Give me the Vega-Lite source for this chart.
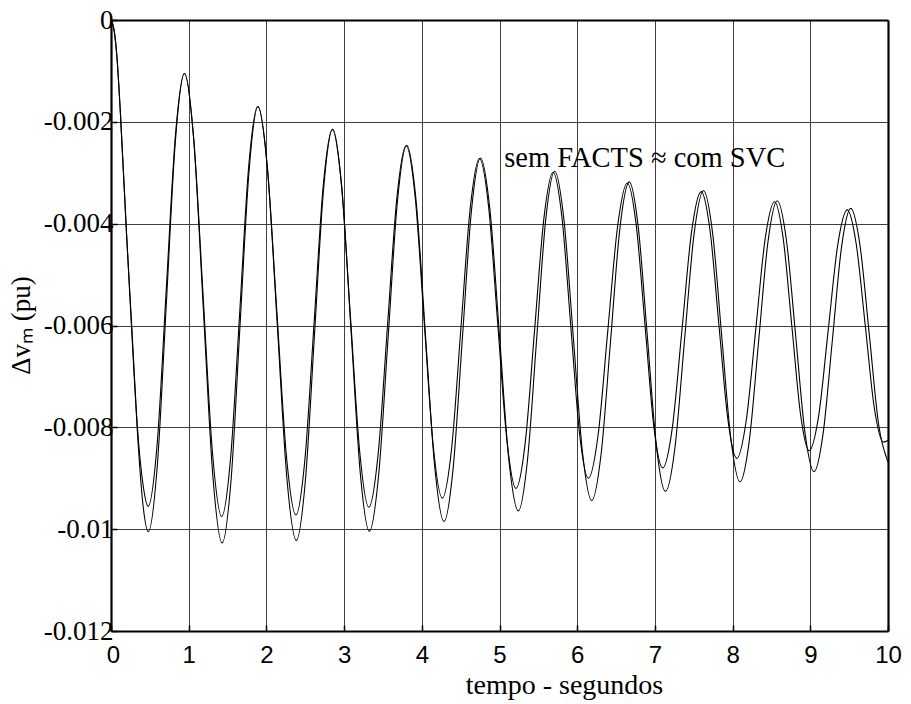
{
  "$schema": "https://vega.github.io/schema/vega-lite/v6.json",
  "width": 777,
  "height": 611,
  "autosize": {"type": "none"},
  "padding": {"left": 111, "top": 20, "right": 23, "bottom": 73},
  "background": "white",
  "config": {
    "view": {"stroke": null},
    "axis": {"domain": false}
  },
  "encoding": {
    "x": {
      "field": "t",
      "type": "quantitative",
      "scale": {"domain": [0, 10], "nice": false, "zero": false},
      "axis": {
        "values": [0, 1, 2, 3, 4, 5, 6, 7, 8, 9, 10],
        "title": "tempo - segundos",
        "titleFont": "Liberation Serif",
        "titleFontSize": 28,
        "titleFontWeight": "normal",
        "titleColor": "black",
        "titleX": 453,
        "titleY": 62,
        "titleAlign": "center",
        "titleBaseline": "alphabetic",
        "labelFont": "Liberation Sans",
        "labelFontSize": 24,
        "labelColor": "black",
        "labelBaseline": "top",
        "labelPadding": 18,
        "labelOffset": {"condition": {"test": "datum.value == 0", "value": 2}, "value": 0},
        "labelFlush": false,
        "labelOverlap": false,
        "ticks": true,
        "tickSize": -6,
        "tickColor": "black",
        "tickWidth": 1.5,
        "grid": true,
        "gridColor": {"condition": {"test": "datum.value == 0 || datum.value == 10", "value": "black"}, "value": "#404040"},
        "gridWidth": {"condition": {"test": "datum.value == 0 || datum.value == 10", "value": 2.2}, "value": 1},
        "gridOpacity": 1
      }
    },
    "y": {
      "field": "dv",
      "type": "quantitative",
      "scale": {"domain": [-0.012, 0], "nice": false, "zero": false},
      "axis": {
        "values": [0, -0.002, -0.004, -0.006, -0.008, -0.01, -0.012],
        "labelExpr": "datum.value == 0 ? '0' : '-' + format(abs(datum.value), '.3~f')",
        "title": "Δvₘ (pu)",
        "titleFont": "Liberation Serif",
        "titleFontSize": 27,
        "titleFontWeight": "normal",
        "titleColor": "black",
        "titleAngle": -90,
        "titleX": -82,
        "titleY": 305,
        "titleAlign": "center",
        "titleBaseline": "alphabetic",
        "labelFont": "Liberation Serif",
        "labelFontSize": 27,
        "labelColor": "black",
        "labelBaseline": "middle",
        "labelPadding": 4,
        "labelFlush": false,
        "labelOverlap": false,
        "ticks": true,
        "tickSize": -6,
        "tickColor": "black",
        "tickWidth": 1.5,
        "grid": true,
        "gridColor": {"condition": {"test": "datum.value == 0 || datum.value == -0.012", "value": "black"}, "value": "#404040"},
        "gridWidth": {"condition": {"test": "datum.value == 0 || datum.value == -0.012", "value": 2.2}, "value": 1},
        "gridOpacity": 1
      }
    }
  },
  "layer": [
    {
      "data": {
        "values": [
          {"serie": "sem FACTS", "t": 0, "dv": 0},
          {"serie": "sem FACTS", "t": 0.04, "dv": -0.0002},
          {"serie": "sem FACTS", "t": 0.08, "dv": -0.0008},
          {"serie": "sem FACTS", "t": 0.12, "dv": -0.0018},
          {"serie": "sem FACTS", "t": 0.2, "dv": -0.0042},
          {"serie": "sem FACTS", "t": 0.27, "dv": -0.0062},
          {"serie": "sem FACTS", "t": 0.34, "dv": -0.0081},
          {"serie": "sem FACTS", "t": 0.41, "dv": -0.0095},
          {"serie": "sem FACTS", "t": 0.48, "dv": -0.01005},
          {"serie": "sem FACTS", "t": 0.597, "dv": -0.00873},
          {"serie": "sem FACTS", "t": 0.713, "dv": -0.00555},
          {"serie": "sem FACTS", "t": 0.829, "dv": -0.00237},
          {"serie": "sem FACTS", "t": 0.946, "dv": -0.00105},
          {"serie": "sem FACTS", "t": 1.067, "dv": -0.0024},
          {"serie": "sem FACTS", "t": 1.188, "dv": -0.00566},
          {"serie": "sem FACTS", "t": 1.309, "dv": -0.00892},
          {"serie": "sem FACTS", "t": 1.43, "dv": -0.01027},
          {"serie": "sem FACTS", "t": 1.546, "dv": -0.00902},
          {"serie": "sem FACTS", "t": 1.661, "dv": -0.00599},
          {"serie": "sem FACTS", "t": 1.777, "dv": -0.00296},
          {"serie": "sem FACTS", "t": 1.892, "dv": -0.0017},
          {"serie": "sem FACTS", "t": 2.015, "dv": -0.00295},
          {"serie": "sem FACTS", "t": 2.139, "dv": -0.00596},
          {"serie": "sem FACTS", "t": 2.262, "dv": -0.00897},
          {"serie": "sem FACTS", "t": 2.385, "dv": -0.01022},
          {"serie": "sem FACTS", "t": 2.502, "dv": -0.00904},
          {"serie": "sem FACTS", "t": 2.619, "dv": -0.00618},
          {"serie": "sem FACTS", "t": 2.736, "dv": -0.00332},
          {"serie": "sem FACTS", "t": 2.853, "dv": -0.00214},
          {"serie": "sem FACTS", "t": 2.971, "dv": -0.0033},
          {"serie": "sem FACTS", "t": 3.089, "dv": -0.00609},
          {"serie": "sem FACTS", "t": 3.207, "dv": -0.00888},
          {"serie": "sem FACTS", "t": 3.325, "dv": -0.01004},
          {"serie": "sem FACTS", "t": 3.445, "dv": -0.00893},
          {"serie": "sem FACTS", "t": 3.566, "dv": -0.00625},
          {"serie": "sem FACTS", "t": 3.686, "dv": -0.00357},
          {"serie": "sem FACTS", "t": 3.806, "dv": -0.00246},
          {"serie": "sem FACTS", "t": 3.926, "dv": -0.00354},
          {"serie": "sem FACTS", "t": 4.046, "dv": -0.00616},
          {"serie": "sem FACTS", "t": 4.166, "dv": -0.00877},
          {"serie": "sem FACTS", "t": 4.286, "dv": -0.00985},
          {"serie": "sem FACTS", "t": 4.403, "dv": -0.00881},
          {"serie": "sem FACTS", "t": 4.521, "dv": -0.00628},
          {"serie": "sem FACTS", "t": 4.638, "dv": -0.00376},
          {"serie": "sem FACTS", "t": 4.755, "dv": -0.00271},
          {"serie": "sem FACTS", "t": 4.877, "dv": -0.00373},
          {"serie": "sem FACTS", "t": 4.999, "dv": -0.00618},
          {"serie": "sem FACTS", "t": 5.12, "dv": -0.00863},
          {"serie": "sem FACTS", "t": 5.242, "dv": -0.00964},
          {"serie": "sem FACTS", "t": 5.359, "dv": -0.00866},
          {"serie": "sem FACTS", "t": 5.476, "dv": -0.00631},
          {"serie": "sem FACTS", "t": 5.593, "dv": -0.00395},
          {"serie": "sem FACTS", "t": 5.71, "dv": -0.00297},
          {"serie": "sem FACTS", "t": 5.829, "dv": -0.00392},
          {"serie": "sem FACTS", "t": 5.949, "dv": -0.00621},
          {"serie": "sem FACTS", "t": 6.068, "dv": -0.00849},
          {"serie": "sem FACTS", "t": 6.187, "dv": -0.00944},
          {"serie": "sem FACTS", "t": 6.308, "dv": -0.00852},
          {"serie": "sem FACTS", "t": 6.429, "dv": -0.00631},
          {"serie": "sem FACTS", "t": 6.549, "dv": -0.0041},
          {"serie": "sem FACTS", "t": 6.67, "dv": -0.00318},
          {"serie": "sem FACTS", "t": 6.786, "dv": -0.00407},
          {"serie": "sem FACTS", "t": 6.903, "dv": -0.00622},
          {"serie": "sem FACTS", "t": 7.019, "dv": -0.00837},
          {"serie": "sem FACTS", "t": 7.135, "dv": -0.00926},
          {"serie": "sem FACTS", "t": 7.258, "dv": -0.0084},
          {"serie": "sem FACTS", "t": 7.38, "dv": -0.00631},
          {"serie": "sem FACTS", "t": 7.503, "dv": -0.00422},
          {"serie": "sem FACTS", "t": 7.625, "dv": -0.00335},
          {"serie": "sem FACTS", "t": 7.743, "dv": -0.00419},
          {"serie": "sem FACTS", "t": 7.86, "dv": -0.00621},
          {"serie": "sem FACTS", "t": 7.978, "dv": -0.00823},
          {"serie": "sem FACTS", "t": 8.095, "dv": -0.00907},
          {"serie": "sem FACTS", "t": 8.215, "dv": -0.00826},
          {"serie": "sem FACTS", "t": 8.335, "dv": -0.00631},
          {"serie": "sem FACTS", "t": 8.455, "dv": -0.00436},
          {"serie": "sem FACTS", "t": 8.575, "dv": -0.00355},
          {"serie": "sem FACTS", "t": 8.693, "dv": -0.00433},
          {"serie": "sem FACTS", "t": 8.812, "dv": -0.00621},
          {"serie": "sem FACTS", "t": 8.93, "dv": -0.00809},
          {"serie": "sem FACTS", "t": 9.048, "dv": -0.00887},
          {"serie": "sem FACTS", "t": 9.166, "dv": -0.00811},
          {"serie": "sem FACTS", "t": 9.284, "dv": -0.00629},
          {"serie": "sem FACTS", "t": 9.402, "dv": -0.00446},
          {"serie": "sem FACTS", "t": 9.52, "dv": -0.0037},
          {"serie": "sem FACTS", "t": 9.64, "dv": -0.00443},
          {"serie": "sem FACTS", "t": 9.76, "dv": -0.00619},
          {"serie": "sem FACTS", "t": 9.88, "dv": -0.00795},
          {"serie": "sem FACTS", "t": 10, "dv": -0.00868},

          {"serie": "com SVC", "t": 0, "dv": 0},
          {"serie": "com SVC", "t": 0.04, "dv": -0.0002},
          {"serie": "com SVC", "t": 0.08, "dv": -0.0008},
          {"serie": "com SVC", "t": 0.12, "dv": -0.0018},
          {"serie": "com SVC", "t": 0.2, "dv": -0.0042},
          {"serie": "com SVC", "t": 0.27, "dv": -0.0061},
          {"serie": "com SVC", "t": 0.34, "dv": -0.008},
          {"serie": "com SVC", "t": 0.41, "dv": -0.0091},
          {"serie": "com SVC", "t": 0.478, "dv": -0.00955},
          {"serie": "com SVC", "t": 0.595, "dv": -0.00831},
          {"serie": "com SVC", "t": 0.711, "dv": -0.0053},
          {"serie": "com SVC", "t": 0.828, "dv": -0.00229},
          {"serie": "com SVC", "t": 0.944, "dv": -0.00105},
          {"serie": "com SVC", "t": 1.064, "dv": -0.00232},
          {"serie": "com SVC", "t": 1.185, "dv": -0.0054},
          {"serie": "com SVC", "t": 1.305, "dv": -0.00848},
          {"serie": "com SVC", "t": 1.425, "dv": -0.00975},
          {"serie": "com SVC", "t": 1.541, "dv": -0.00857},
          {"serie": "com SVC", "t": 1.657, "dv": -0.00573},
          {"serie": "com SVC", "t": 1.772, "dv": -0.00288},
          {"serie": "com SVC", "t": 1.888, "dv": -0.0017},
          {"serie": "com SVC", "t": 2.011, "dv": -0.00287},
          {"serie": "com SVC", "t": 2.134, "dv": -0.00571},
          {"serie": "com SVC", "t": 2.257, "dv": -0.00855},
          {"serie": "com SVC", "t": 2.38, "dv": -0.00972},
          {"serie": "com SVC", "t": 2.497, "dv": -0.00861},
          {"serie": "com SVC", "t": 2.614, "dv": -0.00594},
          {"serie": "com SVC", "t": 2.731, "dv": -0.00326},
          {"serie": "com SVC", "t": 2.848, "dv": -0.00215},
          {"serie": "com SVC", "t": 2.966, "dv": -0.00324},
          {"serie": "com SVC", "t": 3.083, "dv": -0.00586},
          {"serie": "com SVC", "t": 3.201, "dv": -0.00848},
          {"serie": "com SVC", "t": 3.318, "dv": -0.00957},
          {"serie": "com SVC", "t": 3.438, "dv": -0.00853},
          {"serie": "com SVC", "t": 3.558, "dv": -0.00602},
          {"serie": "com SVC", "t": 3.678, "dv": -0.00351},
          {"serie": "com SVC", "t": 3.798, "dv": -0.00247},
          {"serie": "com SVC", "t": 3.915, "dv": -0.00348},
          {"serie": "com SVC", "t": 4.031, "dv": -0.00593},
          {"serie": "com SVC", "t": 4.148, "dv": -0.00838},
          {"serie": "com SVC", "t": 4.264, "dv": -0.00939},
          {"serie": "com SVC", "t": 4.384, "dv": -0.00841},
          {"serie": "com SVC", "t": 4.503, "dv": -0.00606},
          {"serie": "com SVC", "t": 4.623, "dv": -0.0037},
          {"serie": "com SVC", "t": 4.742, "dv": -0.00272},
          {"serie": "com SVC", "t": 4.86, "dv": -0.00367},
          {"serie": "com SVC", "t": 4.977, "dv": -0.00596},
          {"serie": "com SVC", "t": 5.095, "dv": -0.00825},
          {"serie": "com SVC", "t": 5.212, "dv": -0.0092},
          {"serie": "com SVC", "t": 5.332, "dv": -0.00829},
          {"serie": "com SVC", "t": 5.451, "dv": -0.0061},
          {"serie": "com SVC", "t": 5.571, "dv": -0.0039},
          {"serie": "com SVC", "t": 5.69, "dv": -0.00299},
          {"serie": "com SVC", "t": 5.803, "dv": -0.00387},
          {"serie": "com SVC", "t": 5.917, "dv": -0.006},
          {"serie": "com SVC", "t": 6.03, "dv": -0.00812},
          {"serie": "com SVC", "t": 6.143, "dv": -0.009},
          {"serie": "com SVC", "t": 6.269, "dv": -0.00815},
          {"serie": "com SVC", "t": 6.394, "dv": -0.0061},
          {"serie": "com SVC", "t": 6.52, "dv": -0.00405},
          {"serie": "com SVC", "t": 6.645, "dv": -0.0032},
          {"serie": "com SVC", "t": 6.759, "dv": -0.00402},
          {"serie": "com SVC", "t": 6.873, "dv": -0.006},
          {"serie": "com SVC", "t": 6.986, "dv": -0.00798},
          {"serie": "com SVC", "t": 7.1, "dv": -0.0088},
          {"serie": "com SVC", "t": 7.224, "dv": -0.00801},
          {"serie": "com SVC", "t": 7.348, "dv": -0.00609},
          {"serie": "com SVC", "t": 7.471, "dv": -0.00417},
          {"serie": "com SVC", "t": 7.595, "dv": -0.00337},
          {"serie": "com SVC", "t": 7.71, "dv": -0.00414},
          {"serie": "com SVC", "t": 7.824, "dv": -0.00599},
          {"serie": "com SVC", "t": 7.939, "dv": -0.00784},
          {"serie": "com SVC", "t": 8.053, "dv": -0.00861},
          {"serie": "com SVC", "t": 8.175, "dv": -0.00787},
          {"serie": "com SVC", "t": 8.297, "dv": -0.00609},
          {"serie": "com SVC", "t": 8.418, "dv": -0.00431},
          {"serie": "com SVC", "t": 8.54, "dv": -0.00357},
          {"serie": "com SVC", "t": 8.651, "dv": -0.00429},
          {"serie": "com SVC", "t": 8.763, "dv": -0.00602},
          {"serie": "com SVC", "t": 8.874, "dv": -0.00774},
          {"serie": "com SVC", "t": 8.985, "dv": -0.00846},
          {"serie": "com SVC", "t": 9.108, "dv": -0.00777},
          {"serie": "com SVC", "t": 9.23, "dv": -0.0061},
          {"serie": "com SVC", "t": 9.353, "dv": -0.00442},
          {"serie": "com SVC", "t": 9.475, "dv": -0.00373},
          {"serie": "com SVC", "t": 9.591, "dv": -0.0044},
          {"serie": "com SVC", "t": 9.708, "dv": -0.00601},
          {"serie": "com SVC", "t": 9.824, "dv": -0.00762},
          {"serie": "com SVC", "t": 9.94, "dv": -0.00829},
          {"serie": "com SVC", "t": 10, "dv": -0.00826}
        ]
      },
      "mark": {"type": "line", "interpolate": "monotone", "color": "black", "strokeWidth": 1.1, "clip": true},
      "encoding": {
        "detail": {"field": "serie", "type": "nominal"}
      }
    },
    {
      "data": {"values": [{"t": 5.06, "dv": -0.00288, "nota": "sem FACTS ≈ com SVC"}]},
      "mark": {"type": "text", "align": "left", "baseline": "alphabetic", "font": "Liberation Serif", "fontSize": 28.5, "color": "black"},
      "encoding": {
        "text": {"field": "nota", "type": "nominal"}
      }
    }
  ]
}
